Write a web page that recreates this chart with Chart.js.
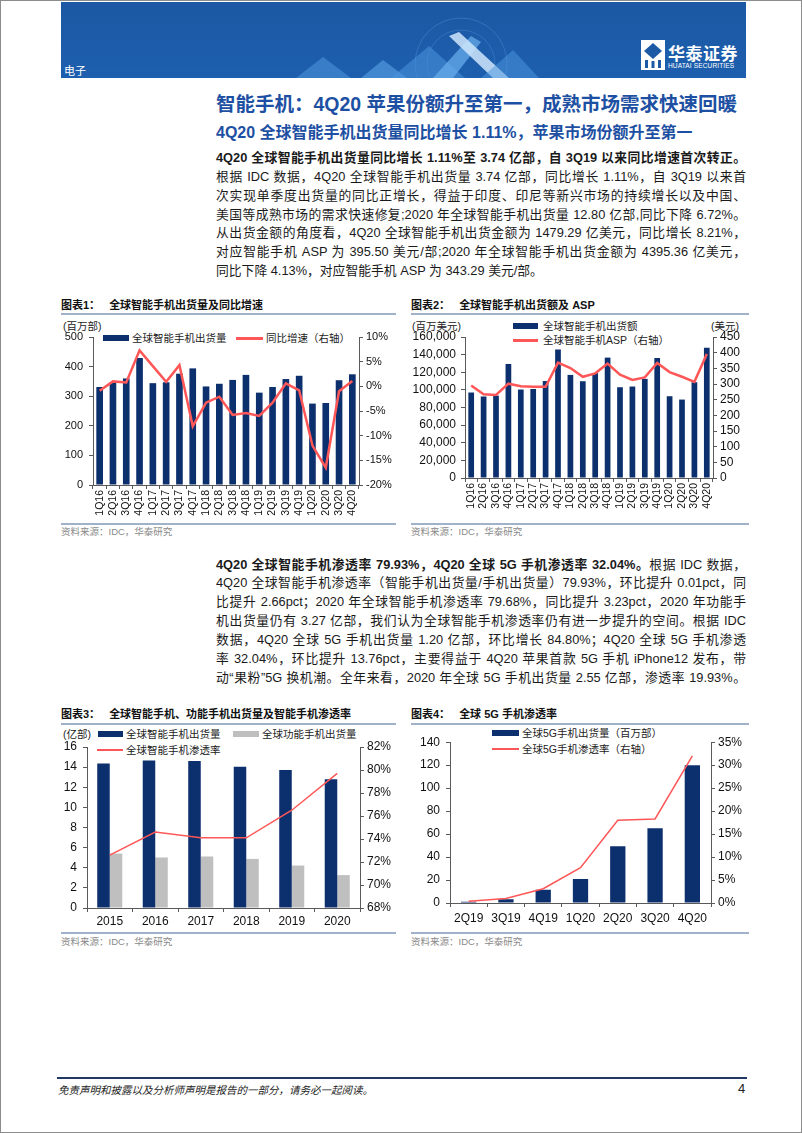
<!DOCTYPE html>
<html lang="zh-CN">
<head>
<meta charset="utf-8">
<title>智能手机</title>
<script src="https://cdn.jsdelivr.net/npm/chart.js@4.4.1/dist/chart.umd.min.js"></script>
<style>
  html, body { margin:0; padding:0; background:#fff; }
  body { font-family:"Liberation Sans", Arial, "Noto Sans CJK SC", sans-serif; color:#1a1a1a; }
  #page { position:relative; width:802px; height:1133px; border:1px solid #8c8c8c; box-sizing:border-box; overflow:hidden; }
  .abs { position:absolute; white-space:nowrap; }
  canvas { position:absolute; }

  #banner { position:absolute; left:60px; top:1px; width:685px; height:76px;
    background:linear-gradient(180deg,#1c58a3 0%,#1d5fae 100%); overflow:hidden; }
  #banner .sec { position:absolute; left:3px; top:62px; color:#fff; font-size:11px; line-height:14px; }
  #logo-name { position:absolute; left:607px; top:38px; color:#fff; font-size:17px; font-weight:bold; letter-spacing:0.5px; }
  #logo-en { position:absolute; left:607px; top:60px; color:#fff; font-size:6.6px; letter-spacing:0.1px; }

  .title { color:#1d50a2; font-weight:bold; }
  .para { position:absolute; left:215px; width:530px; font-size:12.8px; }
  .para div { text-align:justify; text-align-last:justify; white-space:nowrap; }
  .para div.last { text-align-last:left; }
  .para b { font-weight:bold; }

  .ctitle { position:absolute; font-size:11px; line-height:14px; font-weight:bold; color:#111; white-space:nowrap; }
  .ctitle span { margin-left:9px; }
  .rule { position:absolute; height:1.5px; background:#9fb2ca; }
  .src { position:absolute; font-size:9.5px; color:#8a8a8a; white-space:nowrap; }

  .lg { position:absolute; font-size:10.5px; color:#222; white-space:nowrap; line-height:14px; }
  .sw { position:absolute; }
  .unit { position:absolute; font-size:10.5px; color:#222; white-space:nowrap; line-height:14px; }

  #foot-rule { position:absolute; left:56px; top:1076px; width:690px; height:2px; background:#1f3864; }
  #foot { position:absolute; left:57px; top:1081px; font-size:10.5px; font-style:italic; color:#222; }
  #pno { position:absolute; left:737px; top:1080px; font-size:13px; color:#222; }
</style>
</head>
<body>
<div id="page">

  <div id="banner">
    <svg width="685" height="76" style="position:absolute;left:0;top:0">
      <circle cx="400" cy="62" r="46" fill="none" stroke="#5f9fe0" stroke-opacity="0.35" stroke-width="1"/>
      <circle cx="400" cy="62" r="34" fill="none" stroke="#5f9fe0" stroke-opacity="0.3" stroke-width="1"/>
      <polygon points="235,76 262,55 290,76" fill="#4f97dd" fill-opacity="0.55"/>
      <polygon points="300,76 322,58 346,76" fill="#5aa3e6" fill-opacity="0.6"/>
      <polygon points="330,76 368,44 404,76" fill="#4a93da" fill-opacity="0.55"/>
      <polygon points="372,76 410,34 420,40 392,76" fill="#6bb0ee" fill-opacity="0.7"/>
      <polygon points="388,34 398,30 448,76 432,76" fill="#cfe6fb" fill-opacity="0.85"/>
      <polygon points="420,76 452,48 478,76" fill="#4e98df" fill-opacity="0.5"/>
    </svg>
    <div class="sec">电子</div>
    <svg width="24" height="30" style="position:absolute;left:580px;top:38px">
      <rect x="0" y="0" width="24" height="30" fill="#fff"/>
      <polygon points="12,3 21,11 12,19 3,11" fill="#1d5aa6"/>
      <rect x="4" y="20" width="3" height="8" fill="#1d5aa6"/>
      <rect x="10.5" y="21" width="3" height="7" fill="#1d5aa6"/>
      <rect x="17" y="20" width="3" height="8" fill="#1d5aa6"/>
    </svg>
    <div id="logo-name">华泰证券</div>
    <div id="logo-en">HUATAI SECURITIES</div>
  </div>

  <div class="abs title" style="left:215px;top:90px;font-size:19.5px;line-height:26px">智能手机：4Q20 苹果份额升至第一，成熟市场需求快速回暖</div>
  <div class="abs title" style="left:215px;top:122px;font-size:16px;line-height:20px">4Q20 全球智能手机出货量同比增长 1.11%，苹果市场份额升至第一</div>

  <div class="para" style="top:148px;line-height:18.85px">
    <div><b>4Q20 全球智能手机出货量同比增长 1.11%至 3.74 亿部，自 3Q19 以来同比增速首次转正。</b></div>
    <div>根据 IDC 数据，4Q20 全球智能手机出货量 3.74 亿部，同比增长 1.11%，自 3Q19 以来首</div>
    <div>次实现单季度出货量的同比正增长，得益于印度、印尼等新兴市场的持续增长以及中国、</div>
    <div>美国等成熟市场的需求快速修复;2020 年全球智能手机出货量 12.80 亿部,同比下降 6.72%。</div>
    <div>从出货金额的角度看，4Q20 全球智能手机出货金额为 1479.29 亿美元，同比增长 8.21%，</div>
    <div>对应智能手机 ASP 为 395.50 美元/部;2020 年全球智能手机出货金额为 4395.36 亿美元，</div>
    <div class="last">同比下降 4.13%，对应智能手机 ASP 为 343.29 美元/部。</div>
  </div>

  <div class="para" style="top:554.5px;line-height:18.9px">
    <div><b>4Q20 全球智能手机渗透率 79.93%，4Q20 全球 5G 手机渗透率 32.04%。</b>根据 IDC 数据，</div>
    <div>4Q20 全球智能手机渗透率（智能手机出货量/手机出货量）79.93%，环比提升 0.01pct，同</div>
    <div>比提升 2.66pct；2020 年全球智能手机渗透率 79.68%，同比提升 3.23pct，2020 年功能手</div>
    <div>机出货量仍有 3.27 亿部，我们认为全球智能手机渗透率仍有进一步提升的空间。根据 IDC</div>
    <div>数据，4Q20 全球 5G 手机出货量 1.20 亿部，环比增长 84.80%；4Q20 全球 5G 手机渗透</div>
    <div>率 32.04%，环比提升 13.76pct，主要得益于 4Q20 苹果首款 5G 手机 iPhone12 发布，带</div>
    <div>动“果粉”5G 换机潮。全年来看，2020 年全球 5G 手机出货量 2.55 亿部，渗透率 19.93%。</div>
  </div>

  <!-- chart 1 -->
  <div class="ctitle" style="left:60px;top:297px">图表1：<span>全球智能手机出货量及同比增速</span></div>
  <div class="rule" style="left:60px;top:312px;width:335px"></div>
  <div class="unit" style="left:62px;top:318px">(百万部)</div>
  <div class="sw" style="left:102px;top:334px;width:26px;height:6px;background:#0c2f6e"></div>
  <div class="lg" style="left:131px;top:330px">全球智能手机出货量</div>
  <div class="sw" style="left:235px;top:336px;width:27px;height:2.5px;background:#ff5757"></div>
  <div class="lg" style="left:265px;top:330px">同比增速（右轴）</div>
  <canvas id="c1" width="340" height="200" style="left:60px;top:318px"></canvas>
  <div class="rule" style="left:60px;top:522px;width:335px"></div>
  <div class="src" style="left:60px;top:523px">资料来源：IDC，华泰研究</div>

  <!-- chart 2 -->
  <div class="ctitle" style="left:410px;top:297px">图表2：<span>全球智能手机出货额及 ASP</span></div>
  <div class="rule" style="left:410px;top:312px;width:338px"></div>
  <div class="unit" style="left:411px;top:318px">(百万美元)</div>
  <div class="unit" style="left:710px;top:318px">(美元)</div>
  <div class="sw" style="left:512px;top:322px;width:25px;height:6px;background:#0c2f6e"></div>
  <div class="lg" style="left:542px;top:318px">全球智能手机出货额</div>
  <div class="sw" style="left:512px;top:338px;width:25px;height:2.5px;background:#ff5757"></div>
  <div class="lg" style="left:542px;top:332px">全球智能手机ASP（右轴）</div>
  <canvas id="c2" width="345" height="200" style="left:405px;top:318px"></canvas>
  <div class="rule" style="left:410px;top:522px;width:338px"></div>
  <div class="src" style="left:410px;top:523px">资料来源：IDC，华泰研究</div>

  <!-- chart 3 -->
  <div class="ctitle" style="left:60px;top:706px">图表3：<span>全球智能手机、功能手机出货量及智能手机渗透率</span></div>
  <div class="rule" style="left:60px;top:722px;width:335px"></div>
  <div class="unit" style="left:62px;top:726px">(亿部)</div>
  <div class="sw" style="left:97px;top:730px;width:25px;height:6px;background:#0c2f6e"></div>
  <div class="lg" style="left:125px;top:726px">全球智能手机出货量</div>
  <div class="sw" style="left:232px;top:730px;width:26px;height:6px;background:#bfbfbf"></div>
  <div class="lg" style="left:261px;top:726px">全球功能手机出货量</div>
  <div class="sw" style="left:96px;top:748px;width:26px;height:1.5px;background:#ff5757"></div>
  <div class="lg" style="left:125px;top:742px">全球智能手机渗透率</div>
  <canvas id="c3" width="345" height="200" style="left:55px;top:728px"></canvas>
  <div class="rule" style="left:60px;top:931px;width:335px"></div>
  <div class="src" style="left:60px;top:933px">资料来源：IDC，华泰研究</div>

  <!-- chart 4 -->
  <div class="ctitle" style="left:410px;top:706px">图表4：<span>全球 5G 手机渗透率</span></div>
  <div class="rule" style="left:410px;top:722px;width:338px"></div>
  <div class="sw" style="left:491px;top:729px;width:27px;height:6px;background:#0c2f6e"></div>
  <div class="lg" style="left:521px;top:725px">全球5G手机出货量（百万部）</div>
  <div class="sw" style="left:491px;top:747px;width:27px;height:1.5px;background:#ff5757"></div>
  <div class="lg" style="left:521px;top:741px">全球5G手机渗透率（右轴）</div>
  <canvas id="c4" width="345" height="200" style="left:405px;top:728px"></canvas>
  <div class="rule" style="left:410px;top:931px;width:338px"></div>
  <div class="src" style="left:410px;top:933px">资料来源：IDC，华泰研究</div>

  <div id="foot-rule"></div>
  <div id="foot">免责声明和披露以及分析师声明是报告的一部分，请务必一起阅读。</div>
  <div id="pno">4</div>
</div>

<script>
// ====================
// DATA
// ====================
const quarters = ["1Q16","2Q16","3Q16","4Q16","1Q17","2Q17","3Q17","4Q17","1Q18","2Q18",
                  "3Q18","4Q18","1Q19","2Q19","3Q19","4Q19","1Q20","2Q20","3Q20","4Q20"];

// chart 1: shipments (mn units) + yoy (%)
const shipments = [331,345,360,429,344,347,376,394,333,342,355,372,312,331,358,369,275,277,354,374];
const shipmentYoY = [-0.9,1.0,0.8,7.3,4.1,0.9,4.3,-8.1,-3.3,-2.1,-5.8,-5.4,-6.0,-3.3,0.6,-0.8,-12.0,-16.5,-1.0,1.1];

// chart 2: shipment value (mn USD) + ASP (USD)
const shipmentValue = [97000,92500,93500,129400,100400,101000,110000,145700,117000,109800,
                       119000,136600,103000,103800,112500,136200,92800,89000,108700,147900];
const asp = [295,267,265,301,293,291,291,368,351,323,334,365,330,313,321,367,338,323,307,396];

// chart 3: yearly, 100mn units + penetration (%)
const years = ["2015","2016","2017","2018","2019","2020"];
const smartYearly = [14.35,14.65,14.62,14.03,13.72,12.80];
const featureYearly = [5.41,5.02,5.12,4.88,4.22,3.27];
const smartPenetration = [72.6,74.6,74.1,74.1,76.5,79.7];

// chart 4: 5G
const quarters5g = ["2Q19","3Q19","4Q19","1Q20","2Q20","3Q20","4Q20"];
const shipments5g = [1.0,3.2,11.5,21,49.5,65,120];
const penetration5g = [0.4,1.0,3.1,7.7,18.0,18.3,32.0];

// ====================
// STYLE HELPERS
// ====================
const NAVY = "#0c2f6e";
const RED = "#ff5757";
const GREY = "#bfbfbf";
const AXIS = "#5a5a5a";

Chart.defaults.font.family = '"Liberation Sans", Arial, sans-serif';
Chart.defaults.color = "#111";

function yAxis(position, min, max, step, width, size, pad, fmt){
  return {
    position, min, max,
    afterFit: s => { s.width = width; },
    grid: { drawOnChartArea:false, color:AXIS, tickLength:4 },
    border: { color:AXIS },
    ticks: { stepSize:step, autoSkip:false, padding:pad, font:{ size }, callback: fmt }
  };
}

function xAxis(height, rotate, size, pad){
  return {
    afterFit: s => { s.height = height; },
    grid: { drawOnChartArea:false, color:AXIS, tickLength:4, offset:true },
    border: { color:AXIS },
    ticks: { autoSkip:false, maxRotation:rotate, minRotation:rotate, padding:pad, font:{ size } }
  };
}

function baseOptions(top, scales){
  return {
    responsive:false,
    animation:false,
    layout:{ padding:{ top, left:0, right:0, bottom:0 } },
    plugins:{ legend:{ display:false }, tooltip:{ enabled:false } },
    scales
  };
}

const pct = v => v + "%";
const plain = v => v;
const comma = v => v.toLocaleString("en-US");

// ====================
// CHART 1
// ====================
new Chart(document.getElementById("c1"), {
  data: {
    labels: quarters,
    datasets: [
      { type:"line", data:shipmentYoY, yAxisID:"y1", borderColor:RED, borderWidth:2.5,
        pointRadius:0, tension:0, order:1 },
      { type:"bar", data:shipments, yAxisID:"y", backgroundColor:NAVY,
        barPercentage:0.5, categoryPercentage:1, order:2 }
    ]
  },
  options: baseOptions(18, {
    x: xAxis(34, 90, 10.5, 1),
    y: yAxis("left", 0, 500, 100, 32, 11, 6, plain),
    y1: yAxis("right", -20, 10, 5, 42, 11, 3, pct)
  })
});

// ====================
// CHART 2
// ====================
new Chart(document.getElementById("c2"), {
  data: {
    labels: quarters,
    datasets: [
      { type:"line", data:asp, yAxisID:"y1", borderColor:RED, borderWidth:2.5,
        pointRadius:0, tension:0, order:1 },
      { type:"bar", data:shipmentValue, yAxisID:"y", backgroundColor:NAVY,
        barPercentage:0.46, categoryPercentage:1, order:2 }
    ]
  },
  options: baseOptions(18, {
    x: xAxis(41, 90, 10.5, 1),
    y: yAxis("left", 0, 160000, 20000, 59, 12, 5, comma),
    y1: yAxis("right", 0, 450, 50, 38, 12, 3, plain)
  })
});

// ====================
// CHART 3
// ====================
new Chart(document.getElementById("c3"), {
  data: {
    labels: years,
    datasets: [
      { type:"line", data:smartPenetration, yAxisID:"y1", borderColor:RED, borderWidth:1.5,
        pointRadius:0, tension:0, order:1 },
      { type:"bar", data:smartYearly, yAxisID:"y", backgroundColor:NAVY,
        barPercentage:1, categoryPercentage:0.55, order:2 },
      { type:"bar", data:featureYearly, yAxisID:"y", backgroundColor:GREY,
        barPercentage:1, categoryPercentage:0.55, order:3 }
    ]
  },
  options: baseOptions(18, {
    x: xAxis(21, 0, 12, 2),
    y: yAxis("left", 0, 16, 2, 31, 12, 6, plain),
    y1: yAxis("right", 68, 82, 2, 41, 12, 3, pct)
  })
});

// ====================
// CHART 4
// ====================
new Chart(document.getElementById("c4"), {
  data: {
    labels: quarters5g,
    datasets: [
      { type:"line", data:penetration5g, yAxisID:"y1", borderColor:RED, borderWidth:1.5,
        pointRadius:0, tension:0, order:1 },
      { type:"bar", data:shipments5g, yAxisID:"y", backgroundColor:NAVY,
        barPercentage:0.41, categoryPercentage:1, order:2 }
    ]
  },
  options: baseOptions(11, {
    x: xAxis(26, 0, 12, 4),
    y: yAxis("left", 0, 140, 20, 44, 12, 6, plain),
    y1: yAxis("right", 0, 35, 5, 40, 12, 3, pct)
  })
});
</script>
</body>
</html>
